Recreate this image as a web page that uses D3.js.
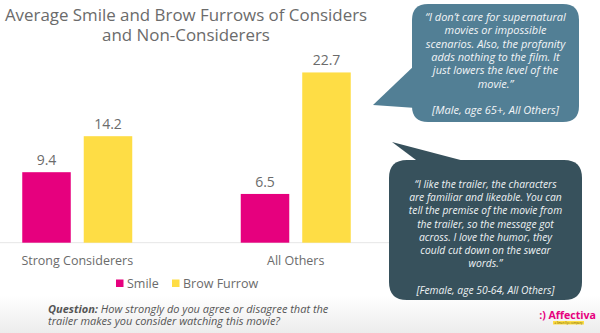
<!DOCTYPE html>
<html><head><meta charset="utf-8">
<script src="https://cdn.jsdelivr.net/npm/d3@7"></script>
<style>
html,body{margin:0;padding:0;background:#fff;}
svg{display:block;font-family:"Open Sans",sans-serif;}
</style></head>
<body>
<script>
const titleLines = ["Average Smile and Brow Furrows of Considers", "and Non-Considerers"];
const categories = ["Strong Considerers", "All Others"];
const seriesNames = ["Smile", "Brow Furrow"];
const smile = [9.4, 6.5];
const browFurrow = [14.2, 22.7];
const seriesColors = ["#e6007e", "#fedd45"];
const quote1 = ["\u201CI don\u2019t care for supernatural", "movies or impossible", "scenarios. Also, the profanity", "adds nothing to the film. It", "just lowers the level of the", "movie.\u201D", "", "[Male, age 65+, All Others]"];
const quote2 = ["\u201CI like the trailer, the characters", "are familiar and likeable. You can", "tell the premise of the movie from", "the trailer, so the message got", "across. I love the  humor, they", "could cut down on the swear", "words.\u201D", "", "[Female, age 50-64, All Others]"];
const questionLabel = "Question:";
const questionLines = [" How strongly do you agree or disagree that the", "trailer makes you consider watching this movie?"];

const W = 600, H = 333;
const svg = d3.select("body").append("svg").attr("width", W).attr("height", H);

// bottom gray gradient
const defs = svg.append("defs");
const g1 = defs.append("linearGradient").attr("id","bot").attr("x1",0).attr("y1",0).attr("x2",0).attr("y2",1);
g1.append("stop").attr("offset","0%").attr("stop-color","#ffffff");
g1.append("stop").attr("offset","100%").attr("stop-color","#ececec");
svg.append("rect").attr("x",0).attr("y",296).attr("width",W).attr("height",37).attr("fill","url(#bot)");

// title
svg.append("g").selectAll("text").data(titleLines).join("text")
  .attr("x", 186).attr("y", (d,i)=>21 + i*20)
  .attr("text-anchor","middle").attr("font-size",16.9).attr("fill","#6b6b6b")
  .text(d=>d);

// scales
const x0 = d3.scaleBand().domain(categories).range([-32, 405]).paddingInner(0).paddingOuter(0);
const x1 = d3.scaleBand().domain(seriesNames).range([54.25, 164.25]).paddingInner(0.211).paddingOuter(0);
const y = d3.scaleLinear().domain([0, 25]).range([242.7, 55.2]);

// baseline
svg.append("line").attr("x1", x0.range()[0]).attr("x2", x0.range()[1])
  .attr("y1", y(0)).attr("y2", y(0)).attr("stroke","#e6e6e6").attr("stroke-width",1);

const rows = categories.map((c,i)=>({cat:c, vals:[smile[i], browFurrow[i]]}));
const groups = svg.append("g").selectAll("g").data(rows).join("g")
  .attr("transform", d=>`translate(${x0(d.cat)},0)`);
groups.selectAll("rect").data(d=>d.vals.map((v,j)=>({s:seriesNames[j], v, j}))).join("rect")
  .attr("x", d=>x1(d.s)).attr("width", x1.bandwidth())
  .attr("y", d=>y(d.v)).attr("height", d=>y(0)-y(d.v))
  .attr("fill", d=>seriesColors[d.j]);
groups.selectAll("text").data(d=>d.vals.map((v,j)=>({s:seriesNames[j], v, j}))).join("text")
  .attr("x", d=>x1(d.s)+x1.bandwidth()/2).attr("y", d=>y(d.v)-7)
  .attr("text-anchor","middle").attr("font-size",14).attr("fill","#6b6b6b")
  .text(d=>d3.format(".1f")(d.v));

// category axis labels
const xAxis = d3.axisBottom(x0).tickSize(0).tickPadding(0);
const ax = svg.append("g").attr("transform", `translate(0,${y(0)})`).call(xAxis);
ax.select(".domain").remove();
ax.selectAll("text").attr("font-family","Open Sans").attr("font-size",12.5).attr("fill","#6b6b6b").attr("dy",null).attr("y",22);

// legend
const legX = [116, 172];
const leg = svg.append("g").selectAll("g").data(seriesNames).join("g")
  .attr("transform",(d,i)=>`translate(${legX[i]},283)`);
leg.append("rect").attr("x",0).attr("y",-3.5).attr("width",7.5).attr("height",7.5).attr("fill",(d,i)=>seriesColors[i]);
leg.append("text").attr("x",11).attr("y",4.5).attr("font-size",12.5).attr("fill","#6b6b6b").text(d=>d);

// question
const q = svg.append("text").attr("x",48).attr("y",313).attr("font-size",11).attr("fill","#555").attr("font-style","italic");
q.append("tspan").attr("font-weight","bold").text(questionLabel);
q.append("tspan").text(questionLines[0]);
svg.append("text").attr("x",48).attr("y",325).attr("font-size",11).attr("fill","#555").attr("font-style","italic").text(questionLines[1]);

// bubbles
function rr(x,yy,w,h,r){return `M${x+r},${yy}H${x+w-r}Q${x+w},${yy} ${x+w},${yy+r}V${yy+h-r}Q${x+w},${yy+h} ${x+w-r},${yy+h}H${x+r}Q${x},${yy+h} ${x},${yy+h-r}V${yy+r}Q${x},${yy} ${x+r},${yy}Z`;}
svg.append("path").attr("d", rr(412,4,167,118,16)).attr("fill","#527f95");
svg.append("path").attr("d","M373,105L416,64L416,108Z").attr("fill","#527f95");
svg.append("path").attr("d", rr(389,160,193,140,18)).attr("fill","#37515c");
svg.append("path").attr("d","M392,142L472,163L420,163Z").attr("fill","#37515c");

svg.append("g").selectAll("text").data(quote1).join("text")
  .attr("x",495.5).attr("y",(d,i)=>21 + i*13.3)
  .attr("text-anchor","middle").attr("font-size",11).attr("font-style","italic").attr("fill","#f2f5f7")
  .text(d=>d);
svg.append("g").selectAll("text").data(quote2).join("text")
  .attr("x",485.5).attr("y",(d,i)=>188 + i*13.2)
  .attr("text-anchor","middle").attr("font-size",10.3).attr("font-style","italic").attr("fill","#eef2f4")
  .text(d=>d);

// logo
svg.append("text").attr("x",596).attr("y",319).attr("text-anchor","end").attr("font-size",10.6).attr("font-weight","bold").attr("fill","#e6007e").text(":) Affectiva");
svg.append("rect").attr("x",553).attr("y",321).attr("width",31).attr("height",3.5).attr("fill","#fedd45");
svg.append("text").attr("x",568.5).attr("y",324).attr("text-anchor","middle").attr("font-size",2.8).attr("fill","#6b5a00").text("a Smart Eye company");
</script>
</body></html>
